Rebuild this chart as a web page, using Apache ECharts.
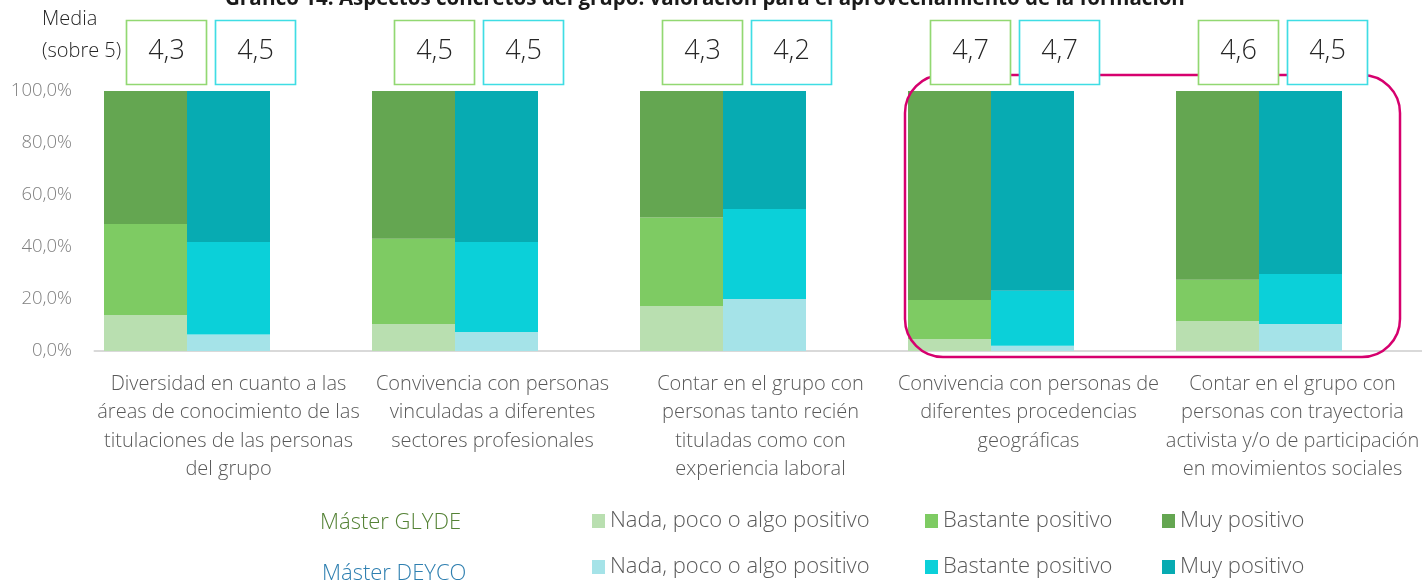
<!DOCTYPE html>
<html>
<head>
<meta charset="utf-8">
<script src="https://cdn.jsdelivr.net/npm/echarts@6/dist/echarts.min.js"></script>
<style>
html,body{margin:0;padding:0;background:#fff;overflow:hidden;width:1422px;height:580px;}
#c{width:1440px;height:580px;}
</style>
</head>
<body>
<div id="c"></div>
<script>
const categories = [
  "Diversidad en cuanto a las\náreas de conocimiento de las\ntitulaciones de las personas\ndel grupo",
  "Convivencia con personas\nvinculadas a diferentes\nsectores profesionales",
  "Contar en el grupo con\npersonas tanto recién\ntituladas como con\nexperiencia laboral",
  "Convivencia con personas de\ndiferentes procedencias\ngeográficas",
  "Contar en el grupo con\npersonas con trayectoria\nactivista y/o de participación\nen movimientos sociales"
];
const levels = ["Nada, poco o algo positivo", "Bastante positivo", "Muy positivo"];
// Máster GLYDE (%)
const glydeNada     = [13.8, 10.4, 17.3, 4.6, 11.5];
const glydeBastante = [35.0, 32.8, 34.0, 15.0, 15.9];
const glydeMuy      = [51.2, 56.8, 48.7, 80.4, 72.6];
// Máster DEYCO (%)
const deycoNada     = [6.3, 7.3, 20.0, 2.0, 10.4];
const deycoBastante = [35.6, 34.6, 34.6, 21.2, 19.2];
const deycoMuy      = [58.1, 58.1, 45.4, 76.8, 70.4];
// Media (sobre 5)
const mediaGlyde = [4.3, 4.5, 4.3, 4.7, 4.6];
const mediaDeyco = [4.5, 4.5, 4.2, 4.7, 4.5];
const yTicks = [0, 20, 40, 60, 80, 100];

const FONT = "'Open Sans', 'Noto Sans', sans-serif";
const glydeColors = ['#b9dfb0', '#7ecb63', '#64a651'];
const deycoColors = ['#a5e3e8', '#0bd0d9', '#07abb2'];
const BW = 83;

const chart = echarts.init(document.getElementById('c'), null, {renderer: 'canvas'});

function barSeries(name, data, stack, color) {
  return {
    type: 'bar', name: name, stack: stack, data: data,
    barWidth: BW, barGap: '0%',
    itemStyle: {color: color},
    xAxisIndex: 0, yAxisIndex: 0,
    emphasis: {disabled: true}
  };
}
const fmt = v => v.toFixed(1).replace('.', ',');

const boxLabel = {show: true, position: 'inside', offset: [0, -1], fontSize: 27, color: '#262626', fontFamily: FONT, fontWeight: 300};

const series = [
  barSeries(levels[0], glydeNada, 'g', glydeColors[0]),
  barSeries(levels[1], glydeBastante, 'g', glydeColors[1]),
  barSeries(levels[2], glydeMuy, 'g', glydeColors[2]),
  barSeries(levels[0] + ' ', deycoNada, 'd', deycoColors[0]),
  barSeries(levels[1] + ' ', deycoBastante, 'd', deycoColors[1]),
  barSeries(levels[2] + ' ', deycoMuy, 'd', deycoColors[2]),
  barSeries('_empty', categories.map(() => null), 'e', 'rgba(0,0,0,0)'),
  {
    type: 'scatter', xAxisIndex: 1, yAxisIndex: 1, z: 20,
    data: mediaGlyde.map((m, i) => [i, 0, m]),
    symbol: 'rect', symbolSize: [80, 64], symbolOffset: [-62, 0],
    itemStyle: {color: '#ffffff', borderColor: '#92d872', borderWidth: 1.5, opacity: 1},
    label: Object.assign({formatter: p => fmt(p.value[2])}, boxLabel),
    emphasis: {disabled: true}
  },
  {
    type: 'scatter', xAxisIndex: 1, yAxisIndex: 1, z: 20,
    data: mediaDeyco.map((m, i) => [i, 0, m]),
    symbol: 'rect', symbolSize: [80, 64], symbolOffset: [27, 0],
    itemStyle: {color: '#ffffff', borderColor: '#3fdde4', borderWidth: 1.5, opacity: 1},
    label: Object.assign({formatter: p => fmt(p.value[2])}, boxLabel),
    emphasis: {disabled: true}
  }
];

const legendText = {fontSize: 22, color: '#595959', fontFamily: FONT, fontWeight: 300};
const legendLefts = [592, 925, 1162];
const legends = [];
levels.forEach((l, i) => {
  legends.push({data: [l], left: legendLefts[i], top: 510, itemWidth: 13, itemHeight: 14, icon: 'rect', textStyle: legendText, selectedMode: false, padding: 0});
  legends.push({data: [l + ' '], left: legendLefts[i], top: 556, itemWidth: 13, itemHeight: 14, icon: 'rect', formatter: n => n.trim(), textStyle: legendText, selectedMode: false, padding: 0});
});

const labelBase = {fontSize: 20, lineHeight: 28.5, color: '#595959', fontFamily: FONT, fontWeight: 300};
const labelRich = {
  s: Object.assign({padding: [0, 8, 0, 0]}, labelBase),
  t: Object.assign({padding: [0, 16, 0, 0]}, labelBase)
};

chart.setOption({
  animation: false,
  backgroundColor: '#ffffff',
  textStyle: {fontFamily: FONT},
  title: {
    text: 'Gráfico 14. Aspectos concretos del grupo: valoración para el aprovechamiento de la formación',
    left: 220, top: -16,
    textStyle: {fontSize: 20.5, fontWeight: 'bold', color: '#1a1a1a', fontFamily: FONT}
  },
  legend: legends,
  grid: [
    {left: 94.5, width: 1340, top: 91, height: 260},
    {left: 94.5, width: 1340, top: 20, height: 65}
  ],
  xAxis: [
    {
      type: 'category', data: categories, gridIndex: 0,
      axisLine: {show: true, lineStyle: {color: '#d9d9d9', width: 2}},
      axisTick: {show: false},
      axisLabel: Object.assign({
        interval: 0, margin: 19,
        formatter: (v, i) => {
          if (i === 0) return v;
          const key = i === categories.length - 1 ? 't' : 's';
          return v.split('\n').map(t => '{' + key + '|' + t + '}').join('\n');
        },
        rich: labelRich
      }, labelBase)
    },
    {
      type: 'category', data: categories, gridIndex: 1, show: false
    }
  ],
  yAxis: [
    {
      type: 'value', gridIndex: 0, min: 0, max: 100, interval: 20,
      axisLine: {show: false}, axisTick: {show: false},
      splitLine: {show: false},
      axisLabel: {margin: 22.5, fontSize: 18.5, color: '#7f7f7f', fontFamily: FONT, fontWeight: 300, formatter: v => yTicks.includes(v) ? fmt(v) + '%' : ''}
    },
    {type: 'value', gridIndex: 1, min: -1, max: 1, show: false}
  ],
  graphic: [
    {type: 'text', left: 42, top: 9, z: 30, style: {text: 'Media', fontSize: 20, fill: '#262626', fontFamily: FONT, fontWeight: 300}},
    {type: 'text', left: 42, top: 41, z: 30, style: {text: '(sobre 5)', fontSize: 20, fill: '#262626', fontFamily: FONT, fontWeight: 300}},
    {type: 'text', left: 320, top: 512, z: 30, style: {text: 'Máster GLYDE', fontSize: 22, fill: '#548235', fontFamily: FONT, fontWeight: 300}},
    {type: 'text', left: 322, top: 563, z: 30, style: {text: 'Máster DEYCO', fontSize: 22, fill: '#2e7fb0', fontFamily: FONT, fontWeight: 300}},
    {type: 'rect', z: 10, shape: {x: 905, y: 75, width: 495, height: 282, r: 38}, style: {fill: 'none', stroke: '#d6006e', lineWidth: 2.5}}
  ],
  series: series
});
</script>
</body>
</html>
